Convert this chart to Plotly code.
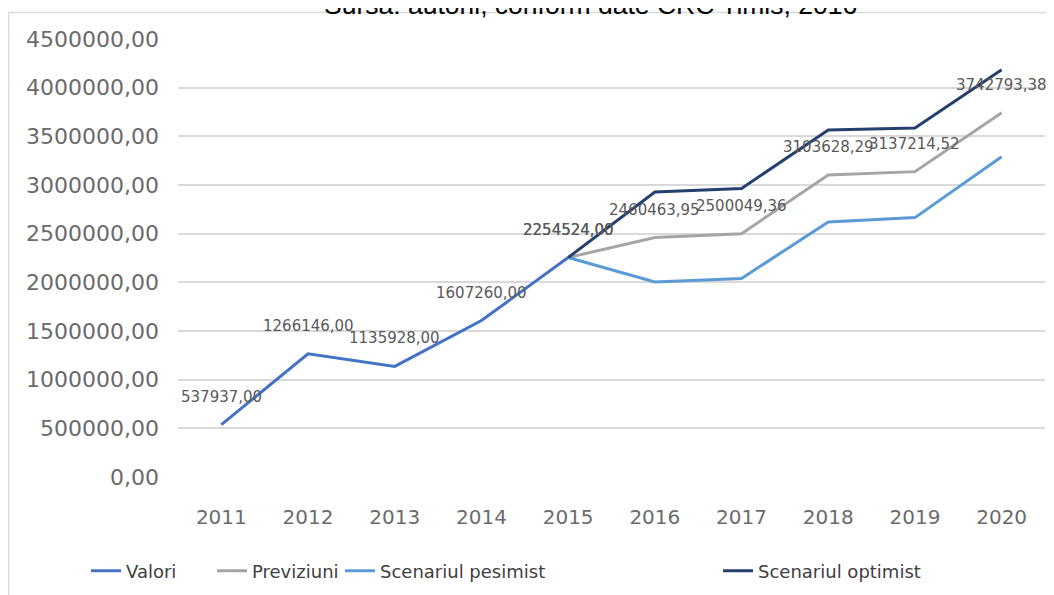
import plotly.graph_objects as go

years = ["2011", "2012", "2013", "2014", "2015", "2016", "2017", "2018", "2019", "2020"]
valori = [537937.00, 1266146.00, 1135928.00, 1607260.00, 2254524.00, None, None, None, None, None]
previziuni = [None, None, None, None, 2254524.00, 2460463.95, 2500049.36, 3103628.29, 3137214.52, 3742793.38]
pesimist = [None, None, None, None, 2254524.00, 2003000.00, 2040000.00, 2620000.00, 2665000.00, 3290000.00]
optimist = [None, None, None, None, 2254524.00, 2928000.00, 2965000.00, 3565000.00, 3585000.00, 4185000.00]
ytick_vals = [0, 500000, 1000000, 1500000, 2000000, 2500000, 3000000, 3500000, 4000000, 4500000]
ytick_text = ["0,00", "500000,00", "1000000,00", "1500000,00", "2000000,00", "2500000,00",
              "3000000,00", "3500000,00", "4000000,00", "4500000,00"]
title_text = "Sursa: autorii, conform date CRC Timis, 2016"

# reference plot area (page pixels): x 178..1045, y 39..477
PL, PR, PT, PB = 178.0, 1045.0, 39.0, 477.0
W, H = PR - PL, PB - PT
OFF = 8  # page body margin


def px(p):
    return (p - PL) / W


def py(p):
    return (PB - p) / H


def fmt(v):
    return f"{v:.2f}".replace(".", ",")


fig = go.Figure()
fig.add_trace(go.Scatter(x=years, y=valori, name="Valori", mode="lines",
                         line=dict(color="#4472C4", width=3), legend="legend"))
fig.add_trace(go.Scatter(x=years, y=previziuni, name="Previziuni", mode="lines",
                         line=dict(color="#A5A5A5", width=3), legend="legend2"))
fig.add_trace(go.Scatter(x=years, y=pesimist, name="Scenariul pesimist", mode="lines",
                         line=dict(color="#5B9BD5", width=3), legend="legend3"))
fig.add_trace(go.Scatter(x=years, y=optimist, name="Scenariul optimist", mode="lines",
                         line=dict(color="#26406E", width=3), legend="legend4"))

lab_font = dict(family="DejaVu Sans", size=15, color="#595959")
for series in (valori, previziuni):
    for i, v in enumerate(series):
        if v is None:
            continue
        fig.add_annotation(x=i, y=v, text=fmt(v), showarrow=False, yshift=28,
                           font=lab_font, xanchor="center", yanchor="middle")

fig.add_annotation(xref="paper", yref="paper", x=px(590), y=py(22.5),
                   text=title_text, showarrow=False, xanchor="center", yanchor="bottom",
                   font=dict(family="Liberation Sans", size=26.5, color="#000000"))

# frame of the chart image
fig.add_shape(type="line", xref="paper", yref="paper",
              x0=px(8.5), x1=px(1060), y0=py(12.5), y1=py(12.5),
              line=dict(color="#d9d9d9", width=1.5))
fig.add_shape(type="line", xref="paper", yref="paper",
              x0=px(8.5), x1=px(8.5), y0=py(12.5), y1=py(610),
              line=dict(color="#d9d9d9", width=1.5))

leg_font = dict(family="DejaVu Sans", size=18, color="#404040")
leg_common = dict(orientation="h", xanchor="left", yanchor="middle", y=py(571),
                  font=leg_font, bgcolor="rgba(0,0,0,0)")

fig.update_layout(
    width=1054, height=595,
    margin=dict(l=PL - OFF, r=1054 - (PR - OFF), t=PT - OFF, b=595 - (PB - OFF)),
    paper_bgcolor="white", plot_bgcolor="white",
    showlegend=True,
    legend=dict(x=px(86), **leg_common),
    legend2=dict(x=px(212), **leg_common),
    legend3=dict(x=px(340), **leg_common),
    legend4=dict(x=px(718), **leg_common),
    xaxis=dict(type="category", categoryorder="array", categoryarray=years,
               range=[-0.5, 9.5], showgrid=False, showline=False, zeroline=False,
               tickfont=dict(family="DejaVu Sans", size=20, color="#6b6b6b"),
               ticks="", ticklabelstandoff=26),
    yaxis=dict(range=[0, 4500000], tickvals=ytick_vals, ticktext=ytick_text,
               showgrid=True, gridcolor="#d9d9d9", gridwidth=1.5, zeroline=False,
               showline=False, ticks="",
               tickfont=dict(family="DejaVu Sans", size=22, color="#6b6b6b"),
               ticklabelstandoff=18),
)

fig.write_html("out.html")
